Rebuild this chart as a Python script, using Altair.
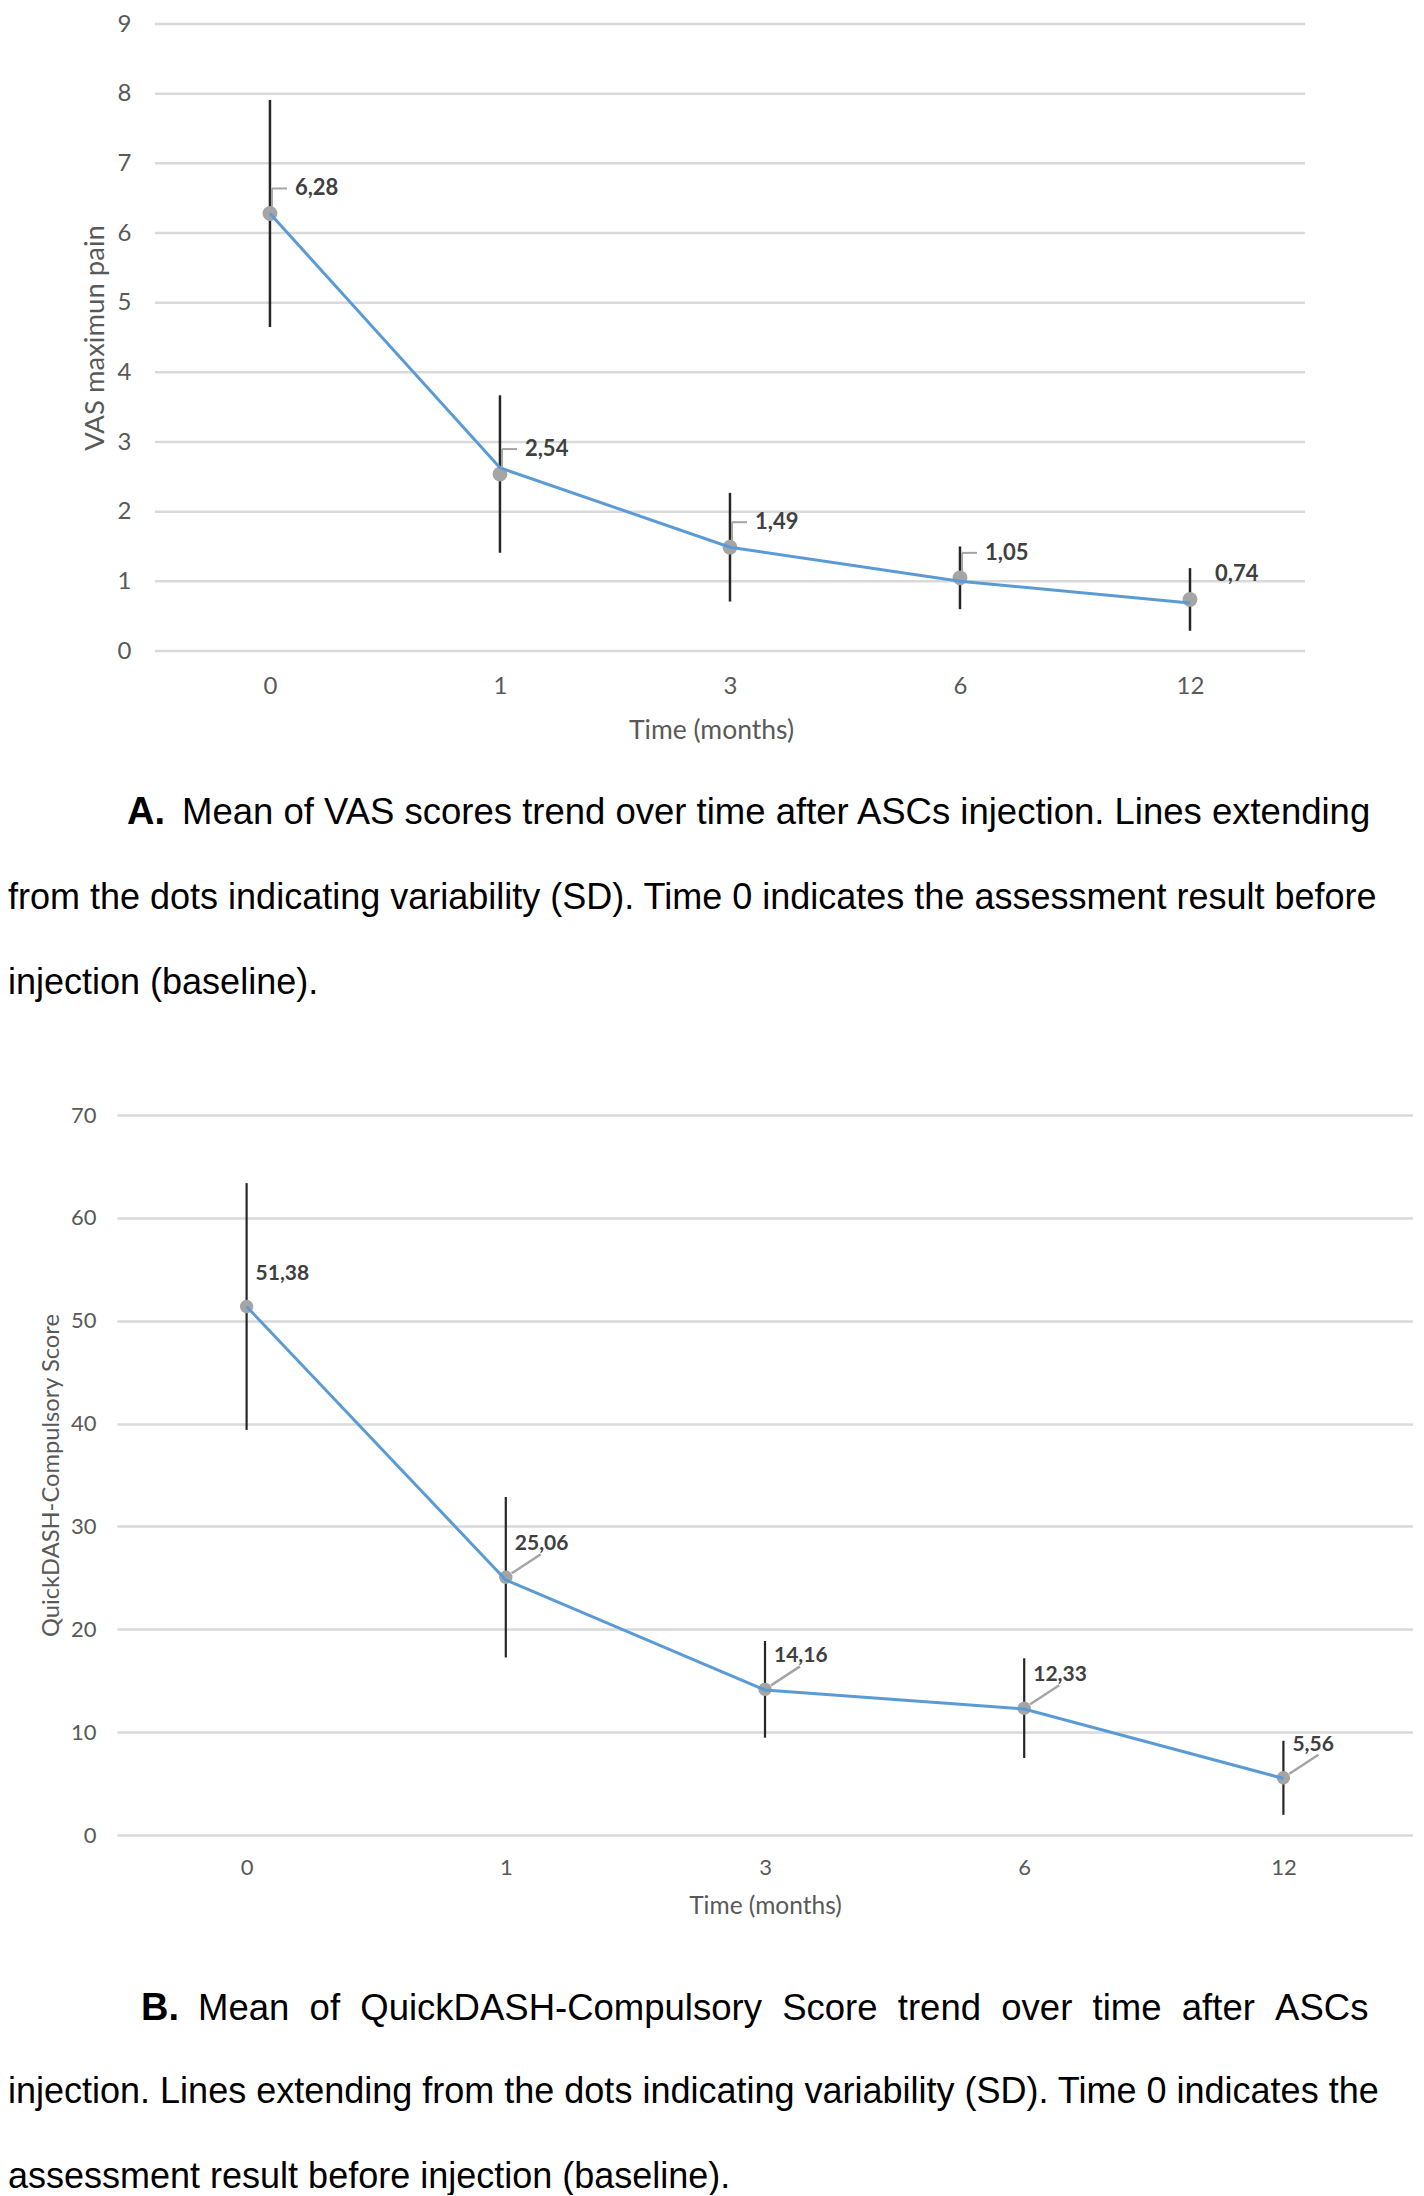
import json
import altair as alt
import pandas as pd

# ---------------- data ----------------
months = ["0", "1", "3", "6", "12"]

vas_mean = [6.28, 2.54, 1.49, 1.05, 0.74]
vas_line = [6.28, 2.63, 1.49, 1.00, 0.69]
vas_sd = [1.63, 1.13, 0.78, 0.45, 0.45]
vas_ticks = list(range(0, 10))

qd_mean = [51.38, 25.06, 14.16, 12.33, 5.56]
qd_line = [51.38, 24.8, 14.1, 12.25, 5.5]
qd_sd = [12.0, 7.8, 4.7, 4.85, 3.6]
qd_ticks = list(range(0, 80, 10))

cap_a_tag = "A."
cap_a_l1 = "Mean of VAS scores trend over time after ASCs injection. Lines extending"
cap_a_rest = ["from the dots indicating variability (SD). Time 0 indicates the assessment result before",
              "injection (baseline)."]

cap_b_tag = "B."
cap_b_words = ["Mean", "of", "QuickDASH-Compulsory", "Score", "trend", "over", "time", "after", "ASCs"]
cap_b_rest = ["injection. Lines extending from the dots indicating variability (SD). Time 0 indicates the",
              "assessment result before injection (baseline)."]

FONT = "Lato"
CAP_FONT = "Liberation Sans"
CAP_SIZE = 36
GRID = "#D9D9D9"
BLUE = "#5B9BD5"
DOT = "#A5A5A5"
BAR = "#262626"
TXT = "#595959"
LBL = "#404040"

label_expr = f"{json.dumps(months)}[datum.value]"
n = len(months)


def fmt(v):
    return f"{v:.2f}".replace(".", ",")


def make_df(mean, line, sd):
    return pd.DataFrame({
        "idx": list(range(n)),
        "month": months,
        "mean": mean,
        "line": line,
        "lo": [m - s for m, s in zip(mean, sd)],
        "hi": [m + s for m, s in zip(mean, sd)],
        "label": [fmt(v) for v in mean],
    })


df_a = make_df(vas_mean, vas_line, vas_sd)
df_b = make_df(qd_mean, qd_line, qd_sd)
grid_df_a = pd.DataFrame({"tick": vas_ticks, "x0": [-0.5] * len(vas_ticks),
                          "x1": [n - 0.5] * len(vas_ticks)})

# ---------------- panel A ----------------
sx_a = alt.Scale(domain=[-0.665, n - 0.5], nice=False, zero=False)
sy_a = alt.Scale(domain=[0, 9], nice=False, zero=True)

ax_x_a = alt.Axis(title="Time (months)", values=list(range(n)), labelExpr=label_expr,
                  grid=False, domain=False, ticks=False, labelPadding=23, titlePadding=19,
                  labelFontSize=24, titleFontSize=26.5, labelAngle=0)
ax_y_a = alt.Axis(title="VAS maximun pain", values=vas_ticks, grid=False, domain=False,
                  ticks=False, labelPadding=-14, titlePadding=8, labelAngle=0,
                  labelFontSize=24, titleFontSize=27.5)

X_a = lambda f: alt.X(f, scale=sx_a, axis=ax_x_a)
Y_a = lambda f: alt.Y(f, scale=sy_a, axis=ax_y_a)

base_a = alt.Chart(df_a)

grid_a = alt.Chart(grid_df_a).mark_rule(color=GRID, strokeWidth=2.5).encode(
    x=X_a("x0:Q"), x2="x1:Q", y=Y_a("tick:Q"),
)

err_a = base_a.mark_rule(color=BAR, strokeWidth=2.5).encode(
    x=X_a("idx:Q"), y=Y_a("lo:Q"), y2="hi:Q",
)

pts_a = base_a.mark_circle(size=220, color=DOT, opacity=1).encode(
    x=X_a("idx:Q"), y=Y_a("mean:Q"),
)

line_a = base_a.mark_line(color=BLUE, strokeWidth=3).encode(
    x=X_a("idx:Q"), y=Y_a("line:Q"),
)

lead_v_a = base_a.transform_filter(f"datum.idx < {n - 1}").mark_rule(
    color=DOT, strokeWidth=2, xOffset=2, yOffset=-6, y2Offset=-25
).encode(x=X_a("idx:Q"), y=Y_a("mean:Q"), y2="mean:Q")

lead_h_a = base_a.transform_filter(f"datum.idx < {n - 1}").mark_rule(
    color=DOT, strokeWidth=2, xOffset=2, x2Offset=17, yOffset=-25
).encode(x=X_a("idx:Q"), x2="idx:Q", y=Y_a("mean:Q"))

lbl_a = base_a.mark_text(
    align="left", baseline="middle", dx=25, dy=-25, font=FONT, fontSize=22,
    fontWeight="bold", color=LBL
).encode(x=X_a("idx:Q"), y=Y_a("mean:Q"), text="label:N")

capA1 = alt.Chart(pd.DataFrame({"t": [cap_a_tag]})).mark_text(
    align="left", baseline="alphabetic", font=CAP_FONT, fontSize=CAP_SIZE + 2,
    fontWeight="bold", color="black"
).encode(text="t:N", x=alt.value(10), y=alt.value(800))

capA2 = alt.Chart(pd.DataFrame({"t": [cap_a_l1]})).mark_text(
    align="left", baseline="alphabetic", font=CAP_FONT, fontSize=CAP_SIZE + 0.5, color="black"
).encode(text="t:N", x=alt.value(65), y=alt.value(800))

capA3 = alt.Chart(pd.DataFrame({"t": ["\n".join(cap_a_rest)]})).mark_text(
    align="left", baseline="alphabetic", font=CAP_FONT, fontSize=CAP_SIZE, color="black",
    lineBreak="\n", lineHeight=85
).encode(text="t:N", x=alt.value(-109), y=alt.value(885))

panel_a = alt.layer(grid_a, err_a, pts_a, line_a, lead_v_a, lead_h_a, lbl_a,
                    capA1, capA2, capA3).properties(width=1188, height=627)

# ---------------- panel B ----------------
sx_b = alt.Scale(domain=[-0.5, n - 0.5], nice=False, zero=False)
sy_b = alt.Scale(domain=[0, 70], nice=False, zero=True)

ax_x_b = alt.Axis(title="Time (months)", values=list(range(n)), labelExpr=label_expr,
                  grid=False, domain=False, ticks=False, labelPadding=22, titlePadding=16,
                  labelFontSize=22, titleFontSize=24.5, labelAngle=0)
ax_y_b = alt.Axis(title="QuickDASH-Compulsory Score", values=qd_ticks, grid=True,
                  gridColor=GRID, gridWidth=2.5, domain=False, ticks=False, labelAngle=0,
                  labelPadding=21, titlePadding=7, labelFontSize=22, titleFontSize=23.7)

X_b = lambda f: alt.X(f, scale=sx_b, axis=ax_x_b)
Y_b = lambda f: alt.Y(f, scale=sy_b, axis=ax_y_b)

base_b = alt.Chart(df_b)

err_b = base_b.mark_rule(color=BAR, strokeWidth=2.2).encode(
    x=X_b("idx:Q"), y=Y_b("lo:Q"), y2="hi:Q",
)

pts_b = base_b.mark_circle(size=180, color=DOT, opacity=1).encode(
    x=X_b("idx:Q"), y=Y_b("mean:Q"),
)

line_b = base_b.mark_line(color=BLUE, strokeWidth=3).encode(
    x=X_b("idx:Q"), y=Y_b("line:Q"),
)

lead_b = base_b.transform_filter("datum.idx > 0").mark_rule(
    color=DOT, strokeWidth=2.5, xOffset=6, yOffset=-4, x2Offset=35, y2Offset=-23
).encode(x=X_b("idx:Q"), x2="idx:Q", y=Y_b("mean:Q"), y2="mean:Q")

lbl_b = base_b.mark_text(
    align="left", baseline="middle", dx=9, dy=-33, font=FONT, fontSize=21,
    fontWeight="bold", color=LBL
).encode(x=X_b("idx:Q"), y=Y_b("mean:Q"), text="label:N")

gap = "\u00a0\u00a0"
capB1 = alt.Chart(pd.DataFrame({"t": [cap_b_tag]})).mark_text(
    align="left", baseline="alphabetic", font=CAP_FONT, fontSize=CAP_SIZE + 2,
    fontWeight="bold", color="black"
).encode(text="t:N", x=alt.value(24), y=alt.value(905))

capB2 = alt.Chart(pd.DataFrame({"t": [gap.join(cap_b_words)]})).mark_text(
    align="left", baseline="alphabetic", font=CAP_FONT, fontSize=CAP_SIZE + 0.5, color="black"
).encode(text="t:N", x=alt.value(81), y=alt.value(905))

capB3 = alt.Chart(pd.DataFrame({"t": ["\n".join(cap_b_rest)]})).mark_text(
    align="left", baseline="alphabetic", font=CAP_FONT, fontSize=CAP_SIZE, color="black",
    lineBreak="\n", lineHeight=85
).encode(text="t:N", x=alt.value(-109), y=alt.value(988))

panel_b = alt.layer(err_b, pts_b, line_b, lead_b, lbl_b,
                    capB1, capB2, capB3).properties(width=1296, height=720)

chart = alt.vconcat(panel_a, panel_b, spacing=103).properties(
    padding={"left": 0, "top": 4, "right": 0, "bottom": 0}
).configure_view(stroke=None).configure_axis(
    labelColor=TXT, titleColor=TXT, labelFont=FONT, titleFont=FONT,
    titleFontWeight="normal", grid=False, domain=False, ticks=False
)

chart.save("out.html", embed_options={"renderer": "svg", "actions": False})
